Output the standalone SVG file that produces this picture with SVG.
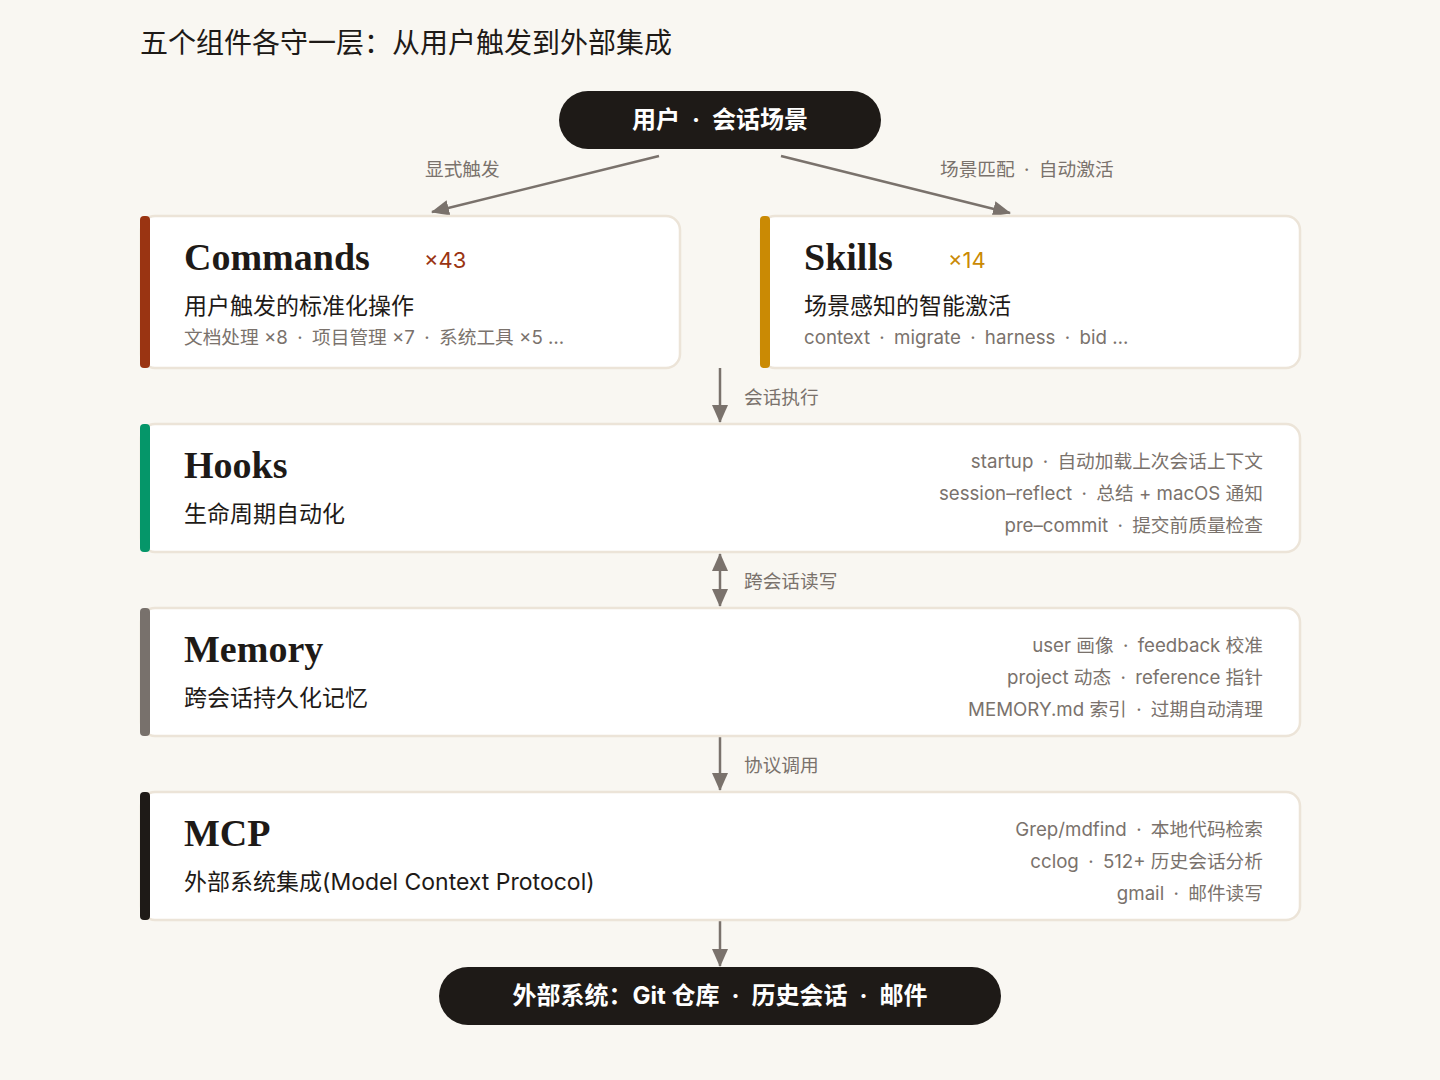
<svg xmlns="http://www.w3.org/2000/svg" width="1440" height="1080" viewBox="0 0 1440 1080">
<defs>
<marker id="ah" markerUnits="userSpaceOnUse" markerWidth="18" markerHeight="16" refX="17" refY="8" orient="auto-start-reverse" viewBox="0 0 18 16">
<path d="M0,0 L18,8 L0,16 z" fill="#7a726c"/>
</marker>
<style>
.card{fill:#ffffff;stroke:#ece4d8;stroke-width:2.5}
.ttl{font-family:"Liberation Serif","Noto Sans CJK SC",serif;font-weight:bold;font-size:38px;fill:#1e1a17}
.sub{font-family:"Inter","Noto Sans CJK SC",sans-serif;font-size:23px;fill:#1e1a17}
.det{font-family:"Inter","Noto Sans CJK SC",sans-serif;font-size:18.7px;fill:#7a726c}
.rt{font-family:"Inter","Noto Sans CJK SC",sans-serif;font-size:18.7px;fill:#7a726c;text-anchor:end}
.lbl{font-family:"Inter","Noto Sans CJK SC",sans-serif;font-size:18.7px;fill:#7a726c}
.cnt{font-family:"Inter","Noto Sans CJK SC",sans-serif;font-size:22px}
.pill{fill:#1e1a17}
.ptx{font-family:"Inter","Noto Sans CJK SC",sans-serif;font-size:24px;font-weight:bold;fill:#ffffff;text-anchor:middle}
.conn{stroke:#7a726c;stroke-width:2.5;fill:none}
</style>
</defs>
<rect width="1440" height="1080" fill="#f9f7f2"/>
<text x="140" y="53" font-family="Liberation Serif, Noto Sans CJK SC, serif" font-size="28" fill="#1e1a17">五个组件各守一层：从用户触发到外部集成</text>

<g id="connectors">
<line class="conn" x1="659" y1="156" x2="432" y2="212" marker-end="url(#ah)"/>
<line class="conn" x1="781" y1="156" x2="1010" y2="213" marker-end="url(#ah)"/>
<line class="conn" x1="720" y1="368" x2="720" y2="422" marker-end="url(#ah)"/>
<line class="conn" x1="720" y1="554" x2="720" y2="606" marker-start="url(#ah)" marker-end="url(#ah)"/>
<line class="conn" x1="720" y1="737" x2="720" y2="790" marker-end="url(#ah)"/>
<line class="conn" x1="720" y1="921" x2="720" y2="966" marker-end="url(#ah)"/>
<text class="lbl" x="425" y="176">显式触发</text>
<text class="lbl" x="940" y="176">场景匹配&#8194;·&#8194;自动激活</text>
<text class="lbl" x="744" y="404">会话执行</text>
<text class="lbl" x="744" y="588">跨会话读写</text>
<text class="lbl" x="744" y="772">协议调用</text>
</g>

<g id="user">
<rect class="pill" x="559" y="91" width="322" height="58" rx="29"/>
<text class="ptx" x="720" y="128">用户&#8194;·&#8194;会话场景</text>
</g>

<g id="commands">
<rect class="card" x="141" y="216" width="539" height="152" rx="14"/>
<rect x="140" y="216" width="10" height="152" rx="4" fill="#9a3412"/>
<text class="ttl" x="184" y="270">Commands</text>
<text class="cnt" x="424" y="268" fill="#9a3412">×43</text>
<text class="sub" x="184" y="314">用户触发的标准化操作</text>
<text class="det" x="184" y="344">文档处理 ×8&#8194;·&#8194;项目管理 ×7&#8194;·&#8194;系统工具 ×5 …</text>
</g>

<g id="skills">
<rect class="card" x="761" y="216" width="539" height="152" rx="14"/>
<rect x="760" y="216" width="10" height="152" rx="4" fill="#ca8a04"/>
<text class="ttl" x="804" y="270">Skills</text>
<text class="cnt" x="948" y="268" fill="#ca8a04">×14</text>
<text class="sub" x="804" y="314">场景感知的智能激活</text>
<text class="det" x="804" y="344">context&#8194;·&#8194;migrate&#8194;·&#8194;harness&#8194;·&#8194;bid …</text>
</g>

<g id="hooks">
<rect class="card" x="141" y="424" width="1159" height="128" rx="14"/>
<rect x="140" y="424" width="10" height="128" rx="4" fill="#059669"/>
<text class="ttl" x="184" y="478">Hooks</text>
<text class="sub" x="184" y="522">生命周期自动化</text>
<text class="rt" x="1263" y="468">startup&#8194;·&#8194;自动加载上次会话上下文</text>
<text class="rt" x="1263" y="500">session–reflect&#8194;·&#8194;总结 + macOS 通知</text>
<text class="rt" x="1263" y="532">pre–commit&#8194;·&#8194;提交前质量检查</text>
</g>

<g id="memory">
<rect class="card" x="141" y="608" width="1159" height="128" rx="14"/>
<rect x="140" y="608" width="10" height="128" rx="4" fill="#78716c"/>
<text class="ttl" x="184" y="662">Memory</text>
<text class="sub" x="184" y="706">跨会话持久化记忆</text>
<text class="rt" x="1263" y="652">user 画像&#8194;·&#8194;feedback 校准</text>
<text class="rt" x="1263" y="684">project 动态&#8194;·&#8194;reference 指针</text>
<text class="rt" x="1263" y="716">MEMORY.md 索引&#8194;·&#8194;过期自动清理</text>
</g>

<g id="mcp">
<rect class="card" x="141" y="792" width="1159" height="128" rx="14"/>
<rect x="140" y="792" width="10" height="128" rx="4" fill="#1e1a17"/>
<text class="ttl" x="184" y="846">MCP</text>
<text class="sub" x="184" y="890">外部系统集成(Model Context Protocol)</text>
<text class="rt" x="1263" y="836">Grep/mdfind&#8194;·&#8194;本地代码检索</text>
<text class="rt" x="1263" y="868">cclog&#8194;·&#8194;512+ 历史会话分析</text>
<text class="rt" x="1263" y="900">gmail&#8194;·&#8194;邮件读写</text>
</g>

<g id="external">
<rect class="pill" x="439" y="967" width="562" height="58" rx="29"/>
<text class="ptx" x="720" y="1004">外部系统：Git 仓库&#8194;·&#8194;历史会话&#8194;·&#8194;邮件</text>
</g>
</svg>
